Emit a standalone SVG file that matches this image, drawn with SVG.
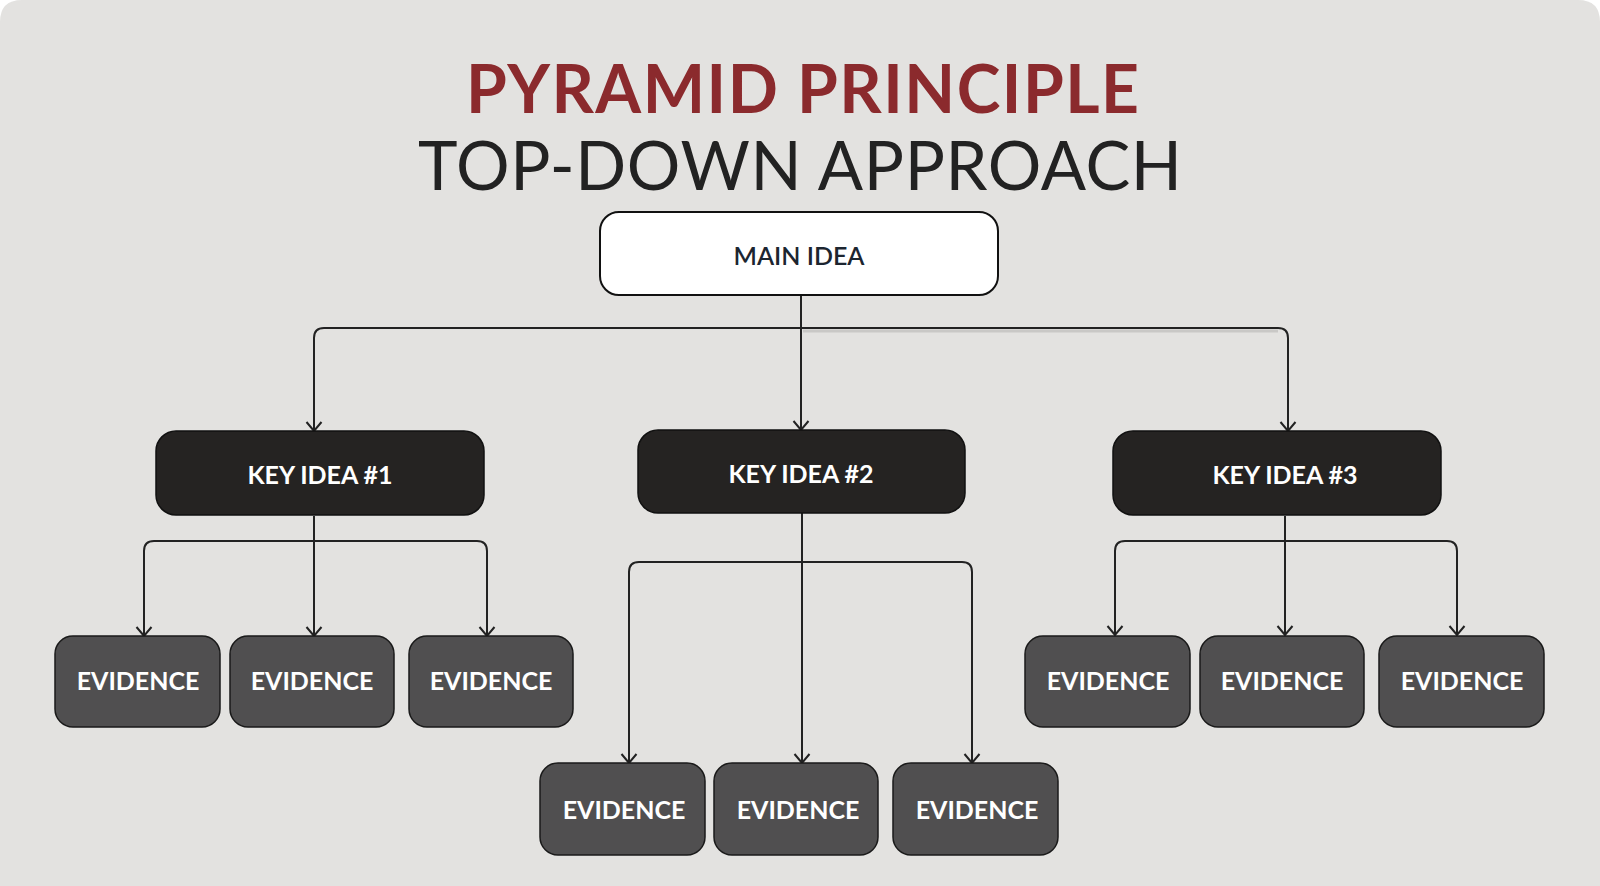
<svg xmlns="http://www.w3.org/2000/svg" width="1600" height="886" viewBox="0 0 1600 886">
  <defs>
    <marker id="arr" viewBox="-1 -9 11 18" refX="9" refY="0" markerWidth="11" markerHeight="18" markerUnits="userSpaceOnUse" orient="auto">
      <path d="M0,-7.5 L9,0 L0,7.5" fill="none" stroke="#222" stroke-width="2"/>
    </marker>
    <style>
      .bg { fill: #e3e2e0; }
      .conn { fill: none; stroke: #222; stroke-width: 2; }
      .arrow { marker-end: url(#arr); }
      .main { fill: #ffffff; stroke: #111; stroke-width: 2; }
      .key { fill: #252322; stroke: #111; stroke-width: 1.5; }
      .ev { fill: #504f50; stroke: #1a1a1a; stroke-width: 1.5; }
      .lbl { font-family: Lato, "Liberation Sans", sans-serif; font-size: 25px; text-anchor: middle; }
      .wlbl { fill: #ffffff; font-weight: bold; }
      .dlbl { fill: #1c2530; font-weight: 600; }
      .t1 { font-family: Lato, "Liberation Sans", sans-serif; font-weight: bold; font-size: 66px; fill: #8b2a2d; }
      .t2 { font-family: Lato, "Liberation Sans", sans-serif; font-weight: normal; font-size: 67px; fill: #222222; }
    </style>
  </defs>
  <path class="bg" d="M0,886 V22 Q0,0 22,0 H1578 Q1600,0 1600,22 V886 Z"/>

  <g id="title">
    <text class="t1" x="466" y="113" textLength="673" lengthAdjust="spacing">PYRAMID PRINCIPLE</text>
    <text class="t2" x="418" y="190" textLength="764" lengthAdjust="spacing">TOP-DOWN APPROACH</text>
  </g>

  <g id="connectors">
    <line x1="803" y1="331" x2="1278" y2="331" stroke="#c9c8c6" stroke-width="3"/>
    <path class="conn arrow" d="M801,295 V430"/>
    <path class="conn arrow" d="M801,328 H324 Q314,328 314,338 V431"/>
    <path class="conn arrow" d="M801,328 H1278 Q1288,328 1288,338 V431"/>

    <path class="conn arrow" d="M314,516 V636"/>
    <path class="conn arrow" d="M314,541 H154 Q144,541 144,551 V636"/>
    <path class="conn arrow" d="M314,541 H477 Q487,541 487,551 V636"/>

    <path class="conn arrow" d="M802,513 V763"/>
    <path class="conn arrow" d="M802,562 H639 Q629,562 629,572 V763"/>
    <path class="conn arrow" d="M802,562 H962 Q972,562 972,572 V763"/>

    <path class="conn arrow" d="M1285,516 V635"/>
    <path class="conn arrow" d="M1285,541 H1125 Q1115,541 1115,551 V635"/>
    <path class="conn arrow" d="M1285,541 H1447 Q1457,541 1457,551 V635"/>
  </g>

  <g id="main-idea">
    <rect class="main" x="600" y="212" width="398" height="83" rx="19"/>
    <text class="lbl dlbl" x="799" y="265">MAIN IDEA</text>
  </g>

  <g id="key-idea-1">
    <rect class="key" x="156" y="431" width="328" height="84" rx="20"/>
    <text class="lbl wlbl" x="320" y="484">KEY IDEA #1</text>
  </g>
  <g id="key-idea-2">
    <rect class="key" x="638" y="430" width="327" height="83" rx="20"/>
    <text class="lbl wlbl" x="801" y="483">KEY IDEA #2</text>
  </g>
  <g id="key-idea-3">
    <rect class="key" x="1113" y="431" width="328" height="84" rx="20"/>
    <text class="lbl wlbl" x="1285" y="484">KEY IDEA #3</text>
  </g>

  <g id="evidence-1-1">
    <rect class="ev" x="55" y="636" width="165" height="91" rx="18"/>
    <text class="lbl wlbl" x="138" y="690">EVIDENCE</text>
  </g>
  <g id="evidence-1-2">
    <rect class="ev" x="230" y="636" width="164" height="91" rx="18"/>
    <text class="lbl wlbl" x="312" y="690">EVIDENCE</text>
  </g>
  <g id="evidence-1-3">
    <rect class="ev" x="409" y="636" width="164" height="91" rx="18"/>
    <text class="lbl wlbl" x="491" y="690">EVIDENCE</text>
  </g>

  <g id="evidence-2-1">
    <rect class="ev" x="540" y="763" width="165" height="92" rx="18"/>
    <text class="lbl wlbl" x="624" y="819">EVIDENCE</text>
  </g>
  <g id="evidence-2-2">
    <rect class="ev" x="714" y="763" width="164" height="92" rx="18"/>
    <text class="lbl wlbl" x="798" y="819">EVIDENCE</text>
  </g>
  <g id="evidence-2-3">
    <rect class="ev" x="893" y="763" width="165" height="92" rx="18"/>
    <text class="lbl wlbl" x="977" y="819">EVIDENCE</text>
  </g>

  <g id="evidence-3-1">
    <rect class="ev" x="1025" y="636" width="165" height="91" rx="18"/>
    <text class="lbl wlbl" x="1108" y="690">EVIDENCE</text>
  </g>
  <g id="evidence-3-2">
    <rect class="ev" x="1200" y="636" width="164" height="91" rx="18"/>
    <text class="lbl wlbl" x="1282" y="690">EVIDENCE</text>
  </g>
  <g id="evidence-3-3">
    <rect class="ev" x="1379" y="636" width="165" height="91" rx="18"/>
    <text class="lbl wlbl" x="1462" y="690">EVIDENCE</text>
  </g>
</svg>
